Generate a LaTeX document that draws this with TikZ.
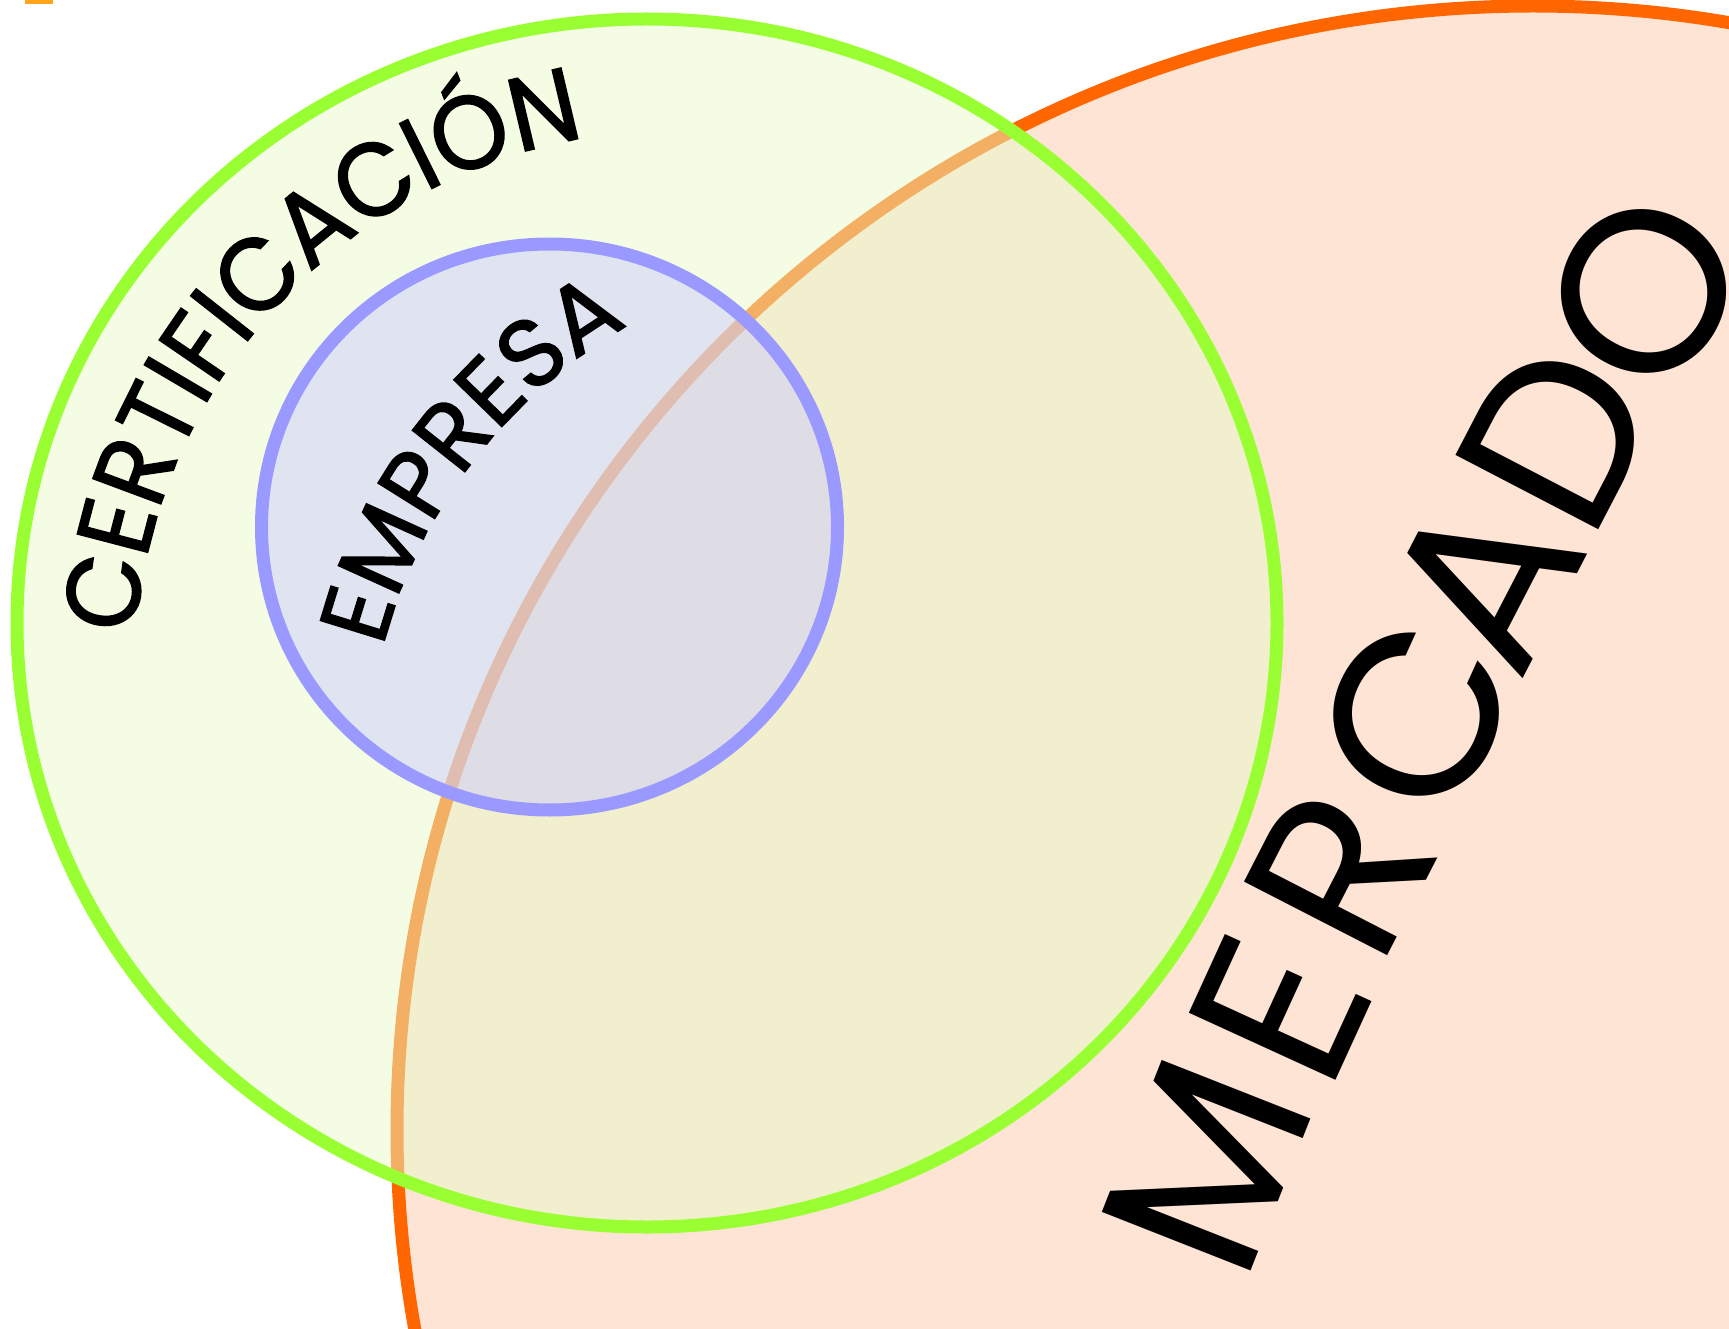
\documentclass[tikz,border=0pt]{standalone}
\usepackage{fontspec}
\setmainfont{Poppins}
\newfontfamily\certfont[FakeBold=1.5,FakeStretch=0.94]{Poppins}
\newfontfamily\empfont[FakeBold=1.5]{Poppins}
\newfontfamily\mercfont{Poppins}
\usetikzlibrary{decorations.text}
\definecolor{orgfill}{RGB}{253,228,212}
\definecolor{orgline}{RGB}{255,102,0}
\definecolor{grnfill}{RGB}{233,251,201}
\definecolor{grnline}{RGB}{153,255,51}
\definecolor{blufill}{RGB}{204,203,252}
\definecolor{bluline}{RGB}{153,153,255}
\definecolor{marko}{RGB}{255,165,25}
\tikzset{
  ring/.style={line width=13pt},
  mletter/.style={inner sep=0pt, anchor=center, text=black,
    font=\mercfont\fontsize{231pt}{231pt}\selectfont},
  arctext/.style={decorate, decoration={text along path, text align=fit to path, text={#1}}}
}
\begin{document}
\begin{tikzpicture}[x=1pt,y=1pt]
\useasboundingbox (0,0) rectangle (1729,-1329);
\clip (0,0) rectangle (1729,-1329);
% small mark at top left
\fill[marko] (25,0) rectangle (53,-4);
% MERCADO circle
\draw[ring, draw=orgline, fill=orgfill] (1533,-1130) ellipse [x radius=1136pt, y radius=1124pt];
% CERTIFICACION circle
\draw[ring, draw=grnline, fill=grnfill, fill opacity=0.5] (647,-623) ellipse [x radius=630pt, y radius=604pt];
% EMPRESA circle
\draw[ring, draw=bluline, fill=blufill, fill opacity=0.5] (549.5,-527) ellipse [x radius=288pt, y radius=283pt];
% curved labels
\path[arctext={|\certfont\fontsize{104pt}{104pt}\selectfont|CERTIFICACIÓN}]
  (676.5,-672.2) ++(176:542pt) arc[start angle=176, end angle=99.8, radius=542pt];
\path[arctext={|\empfont\fontsize{96pt}{96pt}\selectfont|EMPRESA}]
  (885.5,-776.5) ++(165.6:519pt) arc[start angle=165.6, end angle=119.8, radius=519pt];
% MERCADO letters
\node[mletter, rotate=68.5] (m1) at (1206.5,-1165.5) {M};
\node[mletter, rotate=65.4] (m2) at (1280,-1009) {E};
\node[mletter, rotate=62.8] (m3) at (1340,-872.5) {R};
\node[mletter, rotate=65.6] (m4) at (1416,-716) {C};
\node[mletter, rotate=62.6] (m5) at (1484,-580) {A};
\node[mletter, rotate=62.5] (m6) at (1557,-436) {D};
\node[mletter, rotate=62] (m7) at (1644,-291) {O};
\end{tikzpicture}
\end{document}
